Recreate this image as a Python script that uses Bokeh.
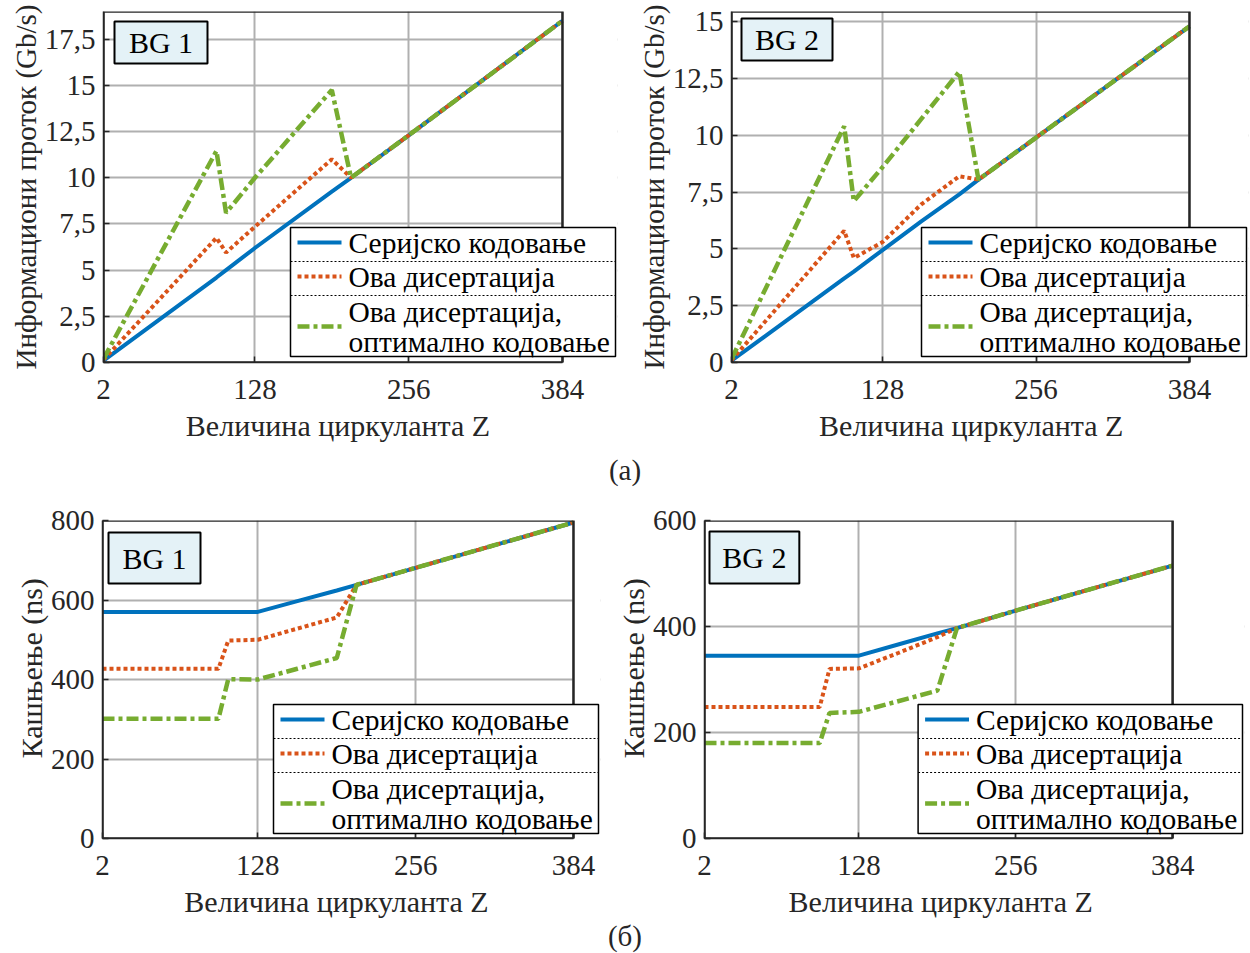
from bokeh.plotting import figure
from bokeh.models import Range1d, FixedTicker, BoxAnnotation, Label, Arrow, Div
from bokeh.layouts import column, row
from bokeh.embed import file_html
from bokeh.resources import INLINE

FONT = "Liberation Serif"
TXT = "#262626"
BLUE, RED, GREEN = "#0072BD", "#D95319", "#77AC30"
NB = "\u00a0"

# ---------------- data ----------------
x_ticks = [2, 128, 256, 384]
x_tick_labels = ["2", "128", "256", "384"]
x_label = "Величина циркуланта Z"
legend_labels = ["Серијско кодовање", "Ова дисертација", "Ова дисертација,", "оптимално кодовање"]
captions = ["(а)", "(б)"]

# (а) information throughput (Gb/s)
thr_ylabel = "Информациони проток (Gb/s)"
thr_z_bg1 = [2, 96, 104, 128, 192, 208, 256, 384]
thr_serial_bg1 = [0.1, 4.6, 5.0, 6.2, 9.25, 10.0, 12.3, 18.5]
thr_this_bg1 = [0.15, 6.75, 5.95, 7.35, 11.0, 10.0, 12.3, 18.5]
thr_opt_bg1 = [0.2, 11.45, 8.1, 10.0, 14.75, 10.0, 12.3, 18.5]
thr_yticks_bg1 = [0, 2.5, 5, 7.5, 10, 12.5, 15, 17.5]
thr_ylabels_bg1 = ["0", "2,5", "5", "7,5", "10", "12,5", "15", "17,5"]

thr_z_bg2 = [2, 96, 104, 128, 160, 192, 208, 256, 384]
thr_serial_bg2 = [0.08, 3.7, 4.0, 4.95, 6.2, 7.4, 8.05, 9.9, 14.8]
thr_this_bg2 = [0.1, 5.8, 4.6, 5.3, 6.95, 8.2, 8.05, 9.9, 14.8]
thr_opt_bg2 = [0.15, 10.4, 7.1, 8.6, 10.7, 12.8, 8.05, 9.9, 14.8]
thr_yticks_bg2 = [0, 2.5, 5, 7.5, 10, 12.5, 15]
thr_ylabels_bg2 = ["0", "2,5", "5", "7,5", "10", "12,5", "15"]

# (б) latency (ns)
lat_ylabel = "Кашњење (ns)"
lat_z = [2, 96, 104, 128, 160, 192, 208, 256, 384]
lat_serial_bg1 = [570, 570, 570, 570, 597, 624, 638, 681, 795]
lat_this_bg1 = [427, 427, 498, 500, 528, 556, 638, 681, 795]
lat_opt_bg1 = [301, 301, 401, 400, 427, 454, 638, 681, 795]
lat_yticks_bg1 = [0, 200, 400, 600, 800]
lat_ylabels_bg1 = ["0", "200", "400", "600", "800"]

lat_serial_bg2 = [345, 345, 345, 345, 366, 387, 397, 430, 515]
lat_this_bg2 = [248, 248, 320, 321, 350, 380, 397, 430, 515]
lat_opt_bg2 = [180, 180, 237, 239, 259, 279, 397, 430, 515]
lat_yticks_bg2 = [0, 200, 400, 600]
lat_ylabels_bg2 = ["0", "200", "400", "600"]

# ---------------- layout specs (pixels) ----------------
# fw: width of the 2..384 data box; the drawing frame is widened to hold the legend
LW, LH = 325, 129
specs = [
    dict(w=625, h=450, bl=103, bt=11, fw=459, fh=351, yr=(0, 19),
         z=thr_z_bg1, s=thr_serial_bg1, t=thr_this_bg1, o=thr_opt_bg1,
         yt=thr_yticks_bg1, yl=thr_ylabels_bg1, ylab=thr_ylabel, bg="BG 1",
         bgbox=(11, 10, 93, 42), leg=(187, 216), xpad=6, ypre=0, yfs="29px"),
    dict(w=625, h=450, bl=106, bt=11, fw=458, fh=351, yr=(0, 15.45),
         z=thr_z_bg2, s=thr_serial_bg2, t=thr_this_bg2, o=thr_opt_bg2,
         yt=thr_yticks_bg2, yl=thr_ylabels_bg2, ylab=thr_ylabel, bg="BG 2",
         bgbox=(10, 7, 91, 42), leg=(190, 216), xpad=5, ypre=0, yfs="29px"),
    dict(w=613, h=430, bl=102, bt=30, fw=471, fh=318, yr=(0, 800),
         z=lat_z, s=lat_serial_bg1, t=lat_this_bg1, o=lat_opt_bg1,
         yt=lat_yticks_bg1, yl=lat_ylabels_bg1, ylab=lat_ylabel, bg="BG 1",
         bgbox=(6, 12, 92, 51), leg=(171, 184), xpad=4, ypre=3, yfs="30px"),
    dict(w=637, h=430, bl=90, bt=30, fw=469, fh=318, yr=(0, 600),
         z=lat_z, s=lat_serial_bg2, t=lat_this_bg2, o=lat_opt_bg2,
         yt=lat_yticks_bg2, yl=lat_ylabels_bg2, ylab=lat_ylabel, bg="BG 2",
         bgbox=(5, 11, 90, 52), leg=(214, 184), xpad=9, ypre=3, yfs="30px"),
]
X0, X1 = x_ticks[0], x_ticks[-1]


def fx(s, dx):
    return X0 + dx / s["fw"] * (X1 - X0)


def fy(s, dy):
    return s["yr"][1] - dy / s["fh"] * (s["yr"][1] - s["yr"][0])


def style_axis(ax):
    ax.axis_line_color = TXT
    ax.axis_line_width = 1.5
    ax.major_tick_line_color = TXT
    ax.major_tick_line_width = 1.5
    ax.major_tick_in = 6
    ax.major_tick_out = 0
    ax.minor_tick_line_color = None
    ax.major_label_text_font = FONT
    ax.major_label_text_color = TXT
    ax.major_label_text_font_size = "29px"
    ax.axis_label_text_font = FONT
    ax.axis_label_text_font_style = "normal"
    ax.axis_label_text_font_size = "30px"
    ax.axis_label_text_color = TXT


def build(s):
    ext_w = s["leg"][0] + LW + 2
    x_end = fx(s, ext_w)
    p = figure(width=s["w"], height=s["h"],
               min_border_left=s["bl"], min_border_top=s["bt"],
               min_border_right=s["w"] - s["bl"] - ext_w,
               min_border_bottom=s["h"] - s["bt"] - s["fh"],
               x_range=Range1d(X0, x_end), y_range=Range1d(*s["yr"]),
               output_backend="svg", toolbar_location=None)
    p.background_fill_color = "white"
    p.border_fill_color = "white"
    p.outline_line_color = None

    p.xaxis.ticker = FixedTicker(ticks=x_ticks)
    p.yaxis.ticker = FixedTicker(ticks=s["yt"])
    p.xaxis.major_label_overrides = dict(zip(x_ticks, x_tick_labels))
    p.yaxis.major_label_overrides = dict(zip(s["yt"], s["yl"]))
    for ax in p.xaxis:
        style_axis(ax)
        ax.bounds = (X0, X1)
        ax.major_label_standoff = 17
        ax.axis_label = x_label + NB * s["xpad"]
        ax.axis_label_standoff = 7
    for ax in p.yaxis:
        style_axis(ax)
        ax.major_label_standoff = 8
        ax.axis_label = NB * s["ypre"] + s["ylab"]
        ax.axis_label_text_font_size = s["yfs"]
        ax.axis_label_standoff = 0

    for g in (p.xgrid, p.ygrid):
        g.grid_line_color = "#b0b0b0"
        g.grid_line_width = 2

    # white area right of the data box (holds the overhanging legend)
    p.add_layout(BoxAnnotation(left=X1, fill_color="white", fill_alpha=1.0,
                               line_color=None, level="underlay"))

    p.line(s["z"], s["s"], line_color=BLUE, line_width=4)
    p.line(s["z"], s["t"], line_color=RED, line_width=4, line_dash="4 3")
    p.line(s["z"], s["o"], line_color=GREEN, line_width=4.5, line_dash="12 4 4 4")

    # data box outline
    p.add_layout(BoxAnnotation(left=X0, right=X1, bottom=s["yr"][0], top=s["yr"][1],
                               fill_alpha=0.0, line_color=TXT, line_width=2.5,
                               line_alpha=1.0))

    # BG box
    bx, by, bw, bh = s["bgbox"]
    p.add_layout(BoxAnnotation(left=fx(s, bx), right=fx(s, bx + bw),
                               top=fy(s, by), bottom=fy(s, by + bh),
                               fill_color="#e4f2f7", fill_alpha=1.0,
                               line_color="black", line_width=2, line_alpha=1.0))
    p.add_layout(Label(x=fx(s, bx + bw / 2), y=fy(s, by + bh / 2), text=s["bg"],
                       text_font=FONT, text_font_size="30px", text_color="black",
                       text_align="center", text_baseline="middle"))

    # legend
    lx, ly = s["leg"]
    p.add_layout(BoxAnnotation(left=fx(s, lx), right=fx(s, lx + LW),
                               top=fy(s, ly), bottom=fy(s, ly + LH),
                               fill_color="white", fill_alpha=1.0,
                               line_color="black", line_width=1.5, line_alpha=1.0))
    for sy in (34, 68):
        p.add_layout(Arrow(end=None, x_start=fx(s, lx), x_end=fx(s, lx + LW),
                           y_start=fy(s, ly + sy), y_end=fy(s, ly + sy),
                           line_color="black", line_width=1, line_dash="2 2"))
    samples = [(15, BLUE, "solid", 4), (49, RED, "4 3", 4), (99, GREEN, "12 4 4 4", 4.5)]
    for yy, col, dash, lw in samples:
        p.add_layout(Arrow(end=None, x_start=fx(s, lx + 7), x_end=fx(s, lx + 51),
                           y_start=fy(s, ly + yy), y_end=fy(s, ly + yy),
                           line_color=col, line_width=lw, line_dash=dash))
    for yy, txt in zip((15, 49, 84, 114), legend_labels):
        p.add_layout(Label(x=fx(s, lx + 58), y=fy(s, ly + yy), text=txt,
                           text_font=FONT, text_font_size="29.5px", text_color="black",
                           text_align="left", text_baseline="middle"))
    return p


figs = [build(s) for s in specs]

cap_style = {"text-align": "center", "font-family": FONT, "font-size": "29px",
             "color": TXT, "width": "1250px"}
cap_a = Div(text=captions[0], width=1250, height=40, margin=(0, 0, 0, 0),
            styles=dict(cap_style, **{"line-height": "40px"}))
cap_b = Div(text=captions[1], width=1250, height=33, margin=(0, 0, 0, 0),
            styles=dict(cap_style, **{"line-height": "33px"}))

layout = column(row(figs[0], figs[1], spacing=0), cap_a,
                row(figs[2], figs[3], spacing=0), cap_b, spacing=0)

open("out.html", "w").write(file_html(layout, INLINE))
